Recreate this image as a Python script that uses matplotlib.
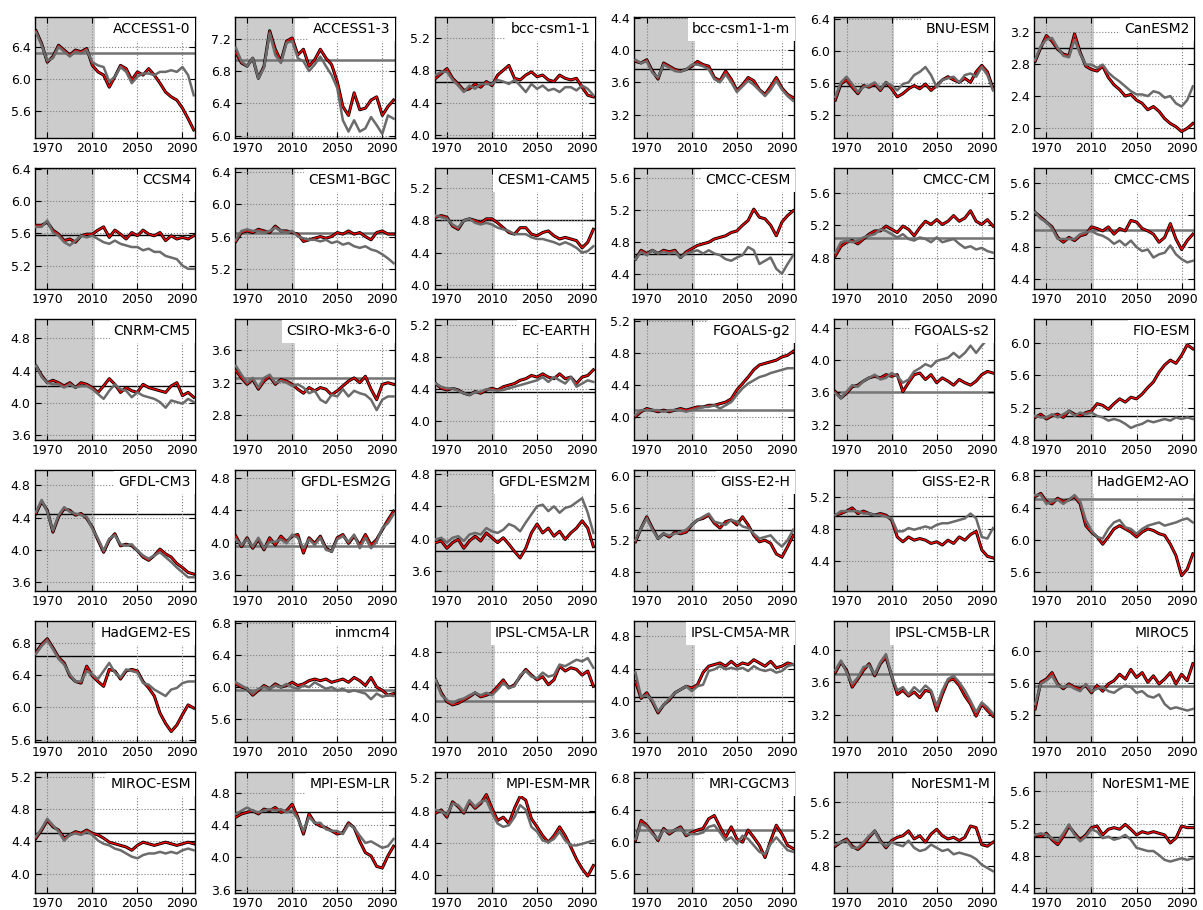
import numpy as np
import matplotlib
matplotlib.use("Agg")
import matplotlib.pyplot as plt
from matplotlib.ticker import MultipleLocator

# years sampled every 5 years, 1960-2100
years = np.arange(1960, 2101, 5)

# red/black run and grey run for each model
access1_0_red = [6.60, 6.44, 6.21, 6.28, 6.42, 6.36, 6.30, 6.36, 6.34, 6.38, 6.17, 6.09, 6.05, 5.90, 6.03, 6.17, 6.13, 5.99, 6.09, 6.05, 6.13, 6.05, 5.95, 5.84, 5.78, 5.74, 5.64, 5.51, 5.37]
access1_0_gray = [6.58, 6.42, 6.23, 6.26, 6.40, 6.34, 6.28, 6.34, 6.32, 6.36, 6.21, 6.17, 6.15, 5.97, 6.03, 6.15, 6.09, 5.95, 6.03, 6.07, 6.07, 6.05, 6.09, 6.09, 6.11, 6.09, 6.15, 6.05, 5.80]
access1_3_red = [7.03, 6.90, 6.86, 6.96, 6.71, 6.86, 7.30, 7.07, 6.92, 7.17, 7.21, 7.00, 7.07, 6.86, 6.94, 7.07, 6.96, 6.88, 6.67, 6.36, 6.25, 6.53, 6.32, 6.34, 6.44, 6.48, 6.25, 6.36, 6.44]
access1_3_gray = [7.09, 6.92, 6.86, 6.96, 6.71, 6.84, 7.27, 7.00, 6.90, 7.15, 7.17, 6.96, 6.92, 6.80, 6.88, 6.98, 6.86, 6.75, 6.59, 6.19, 6.05, 6.19, 6.05, 6.09, 6.23, 6.13, 6.02, 6.25, 6.21]
bcc_csm1_1_red = [4.70, 4.76, 4.82, 4.70, 4.63, 4.55, 4.57, 4.63, 4.59, 4.66, 4.61, 4.74, 4.80, 4.86, 4.70, 4.68, 4.74, 4.78, 4.72, 4.74, 4.68, 4.66, 4.74, 4.70, 4.68, 4.70, 4.59, 4.49, 4.47]
bcc_csm1_1_gray = [4.74, 4.78, 4.78, 4.68, 4.61, 4.53, 4.61, 4.57, 4.63, 4.63, 4.63, 4.68, 4.66, 4.63, 4.68, 4.61, 4.53, 4.63, 4.57, 4.61, 4.55, 4.57, 4.53, 4.59, 4.59, 4.55, 4.61, 4.57, 4.49]
bcc_csm1_1_m_red = [3.86, 3.84, 3.88, 3.74, 3.64, 3.84, 3.80, 3.76, 3.74, 3.76, 3.80, 3.86, 3.82, 3.80, 3.66, 3.62, 3.74, 3.64, 3.50, 3.57, 3.66, 3.62, 3.51, 3.45, 3.55, 3.66, 3.53, 3.45, 3.41]
bcc_csm1_1_m_gray = [3.88, 3.84, 3.86, 3.72, 3.66, 3.82, 3.78, 3.74, 3.73, 3.76, 3.82, 3.82, 3.80, 3.76, 3.64, 3.60, 3.70, 3.60, 3.48, 3.55, 3.62, 3.57, 3.50, 3.43, 3.51, 3.62, 3.51, 3.43, 3.37]
bnu_esm_red = [5.39, 5.59, 5.64, 5.55, 5.47, 5.57, 5.55, 5.59, 5.51, 5.61, 5.53, 5.43, 5.47, 5.53, 5.57, 5.53, 5.59, 5.51, 5.57, 5.64, 5.68, 5.64, 5.61, 5.66, 5.61, 5.74, 5.82, 5.74, 5.53]
bnu_esm_gray = [5.43, 5.61, 5.68, 5.59, 5.49, 5.55, 5.57, 5.61, 5.53, 5.61, 5.57, 5.51, 5.59, 5.61, 5.70, 5.74, 5.80, 5.70, 5.55, 5.64, 5.66, 5.68, 5.61, 5.70, 5.72, 5.68, 5.80, 5.70, 5.51]
canesm2_red = [2.83, 3.00, 3.15, 3.08, 2.98, 2.92, 2.90, 3.17, 2.94, 2.77, 2.73, 2.71, 2.77, 2.63, 2.54, 2.48, 2.40, 2.42, 2.35, 2.31, 2.23, 2.27, 2.21, 2.12, 2.06, 2.02, 1.96, 2.00, 2.06]
canesm2_gray = [2.85, 3.02, 3.10, 3.12, 3.00, 2.90, 2.88, 3.10, 2.92, 2.79, 2.79, 2.75, 2.79, 2.69, 2.63, 2.58, 2.52, 2.46, 2.42, 2.42, 2.40, 2.46, 2.44, 2.38, 2.40, 2.31, 2.27, 2.35, 2.52]
ccsm4_red = [5.70, 5.70, 5.74, 5.64, 5.59, 5.51, 5.53, 5.49, 5.57, 5.59, 5.59, 5.64, 5.68, 5.55, 5.64, 5.59, 5.53, 5.61, 5.57, 5.64, 5.59, 5.57, 5.61, 5.51, 5.57, 5.53, 5.55, 5.53, 5.57]
ccsm4_gray = [5.68, 5.68, 5.76, 5.61, 5.57, 5.49, 5.45, 5.51, 5.57, 5.55, 5.57, 5.53, 5.49, 5.47, 5.51, 5.47, 5.45, 5.43, 5.43, 5.39, 5.41, 5.37, 5.37, 5.32, 5.30, 5.28, 5.20, 5.16, 5.16]
cesm1_bgc_red = [5.54, 5.65, 5.67, 5.65, 5.69, 5.67, 5.65, 5.73, 5.67, 5.67, 5.65, 5.63, 5.54, 5.56, 5.58, 5.60, 5.58, 5.60, 5.65, 5.63, 5.67, 5.63, 5.65, 5.60, 5.56, 5.65, 5.67, 5.63, 5.63]
cesm1_bgc_gray = [5.56, 5.67, 5.69, 5.67, 5.67, 5.65, 5.67, 5.71, 5.67, 5.65, 5.67, 5.60, 5.58, 5.56, 5.56, 5.54, 5.56, 5.52, 5.54, 5.50, 5.52, 5.48, 5.46, 5.48, 5.44, 5.42, 5.38, 5.33, 5.27]
cesm1_cam5_red = [4.84, 4.86, 4.84, 4.73, 4.69, 4.80, 4.82, 4.80, 4.77, 4.82, 4.82, 4.77, 4.71, 4.65, 4.63, 4.71, 4.71, 4.63, 4.61, 4.65, 4.67, 4.61, 4.57, 4.59, 4.57, 4.55, 4.46, 4.53, 4.69]
cesm1_cam5_gray = [4.86, 4.84, 4.82, 4.75, 4.71, 4.80, 4.82, 4.77, 4.75, 4.77, 4.75, 4.71, 4.69, 4.67, 4.63, 4.63, 4.63, 4.59, 4.57, 4.57, 4.55, 4.53, 4.50, 4.53, 4.50, 4.46, 4.40, 4.42, 4.48]
cmcc_cesm_red = [4.59, 4.70, 4.66, 4.70, 4.66, 4.70, 4.68, 4.70, 4.61, 4.68, 4.72, 4.76, 4.78, 4.80, 4.84, 4.86, 4.88, 4.92, 4.94, 5.01, 5.07, 5.21, 5.11, 5.09, 5.01, 4.88, 5.05, 5.13, 5.19]
cmcc_cesm_gray = [4.59, 4.68, 4.64, 4.70, 4.66, 4.68, 4.66, 4.68, 4.61, 4.66, 4.68, 4.70, 4.66, 4.70, 4.66, 4.64, 4.59, 4.57, 4.61, 4.64, 4.74, 4.70, 4.53, 4.57, 4.61, 4.47, 4.41, 4.53, 4.64]
cmcc_cm_red = [4.82, 4.94, 4.99, 5.01, 4.97, 5.03, 5.09, 5.13, 5.13, 5.19, 5.15, 5.11, 5.19, 5.15, 5.07, 5.17, 5.25, 5.21, 5.27, 5.21, 5.25, 5.32, 5.25, 5.29, 5.38, 5.25, 5.21, 5.27, 5.19]
cmcc_cm_gray = [4.86, 4.99, 5.01, 4.99, 5.01, 5.05, 5.07, 5.09, 5.15, 5.13, 5.09, 5.05, 5.09, 5.03, 5.01, 5.05, 5.03, 4.99, 5.05, 4.99, 5.01, 5.03, 4.97, 4.92, 4.94, 4.90, 4.92, 4.88, 4.86]
cmcc_cms_red = [5.23, 5.17, 5.11, 5.05, 4.92, 4.86, 4.92, 4.88, 4.94, 4.96, 5.05, 5.03, 5.00, 5.05, 4.96, 5.03, 5.00, 5.13, 5.11, 5.03, 5.00, 4.96, 4.86, 4.92, 5.09, 4.90, 4.77, 4.88, 4.96]
cmcc_cms_gray = [5.23, 5.15, 5.11, 5.03, 4.90, 4.90, 4.90, 4.90, 4.96, 4.98, 5.00, 4.96, 4.94, 4.90, 4.84, 4.88, 4.82, 4.88, 4.80, 4.75, 4.77, 4.67, 4.71, 4.73, 4.82, 4.71, 4.65, 4.61, 4.63]
cnrm_cm5_red = [4.46, 4.34, 4.25, 4.28, 4.25, 4.21, 4.25, 4.19, 4.25, 4.23, 4.19, 4.13, 4.21, 4.30, 4.23, 4.13, 4.19, 4.15, 4.13, 4.23, 4.19, 4.17, 4.15, 4.13, 4.21, 4.25, 4.09, 4.13, 4.07]
cnrm_cm5_gray = [4.46, 4.32, 4.25, 4.23, 4.23, 4.19, 4.23, 4.19, 4.21, 4.21, 4.17, 4.11, 4.05, 4.15, 4.23, 4.17, 4.15, 4.07, 4.13, 4.09, 4.07, 4.05, 4.01, 3.94, 4.03, 4.01, 3.99, 4.05, 4.01]
csiro_mk3_6_0_red = [3.35, 3.26, 3.18, 3.24, 3.12, 3.22, 3.28, 3.18, 3.24, 3.22, 3.18, 3.12, 3.07, 3.14, 3.10, 3.14, 3.12, 3.05, 3.10, 3.16, 3.22, 3.26, 3.20, 3.28, 3.12, 2.99, 3.18, 3.20, 3.18]
csiro_mk3_6_0_gray = [3.41, 3.30, 3.20, 3.26, 3.14, 3.26, 3.30, 3.20, 3.22, 3.20, 3.16, 3.18, 3.14, 3.07, 3.10, 2.99, 2.95, 3.05, 3.03, 3.12, 3.03, 3.10, 3.07, 3.05, 2.99, 2.86, 2.99, 3.03, 3.03]
ec_earth_red = [4.47, 4.41, 4.39, 4.41, 4.39, 4.35, 4.33, 4.37, 4.35, 4.39, 4.41, 4.39, 4.43, 4.45, 4.47, 4.51, 4.53, 4.57, 4.55, 4.59, 4.55, 4.53, 4.59, 4.53, 4.55, 4.47, 4.55, 4.57, 4.64]
ec_earth_gray = [4.47, 4.43, 4.41, 4.41, 4.38, 4.35, 4.33, 4.36, 4.37, 4.40, 4.39, 4.38, 4.39, 4.41, 4.43, 4.45, 4.47, 4.49, 4.51, 4.55, 4.49, 4.55, 4.51, 4.47, 4.55, 4.43, 4.47, 4.51, 4.49]
fgoals_g2_red = [4.01, 4.07, 4.11, 4.09, 4.07, 4.09, 4.07, 4.09, 4.11, 4.09, 4.11, 4.13, 4.13, 4.15, 4.15, 4.17, 4.19, 4.23, 4.34, 4.42, 4.50, 4.59, 4.65, 4.67, 4.69, 4.71, 4.75, 4.77, 4.82]
fgoals_g2_gray = [4.03, 4.09, 4.09, 4.09, 4.09, 4.07, 4.09, 4.09, 4.09, 4.07, 4.09, 4.11, 4.13, 4.13, 4.15, 4.11, 4.15, 4.19, 4.28, 4.36, 4.42, 4.46, 4.50, 4.52, 4.55, 4.57, 4.59, 4.61, 4.61]
fgoals_s2_red = [3.61, 3.53, 3.59, 3.67, 3.69, 3.74, 3.78, 3.80, 3.78, 3.82, 3.80, 3.82, 3.61, 3.72, 3.82, 3.84, 3.76, 3.82, 3.72, 3.78, 3.74, 3.69, 3.76, 3.72, 3.69, 3.74, 3.82, 3.86, 3.84]
fgoals_s2_gray = [3.59, 3.53, 3.61, 3.69, 3.67, 3.74, 3.78, 3.82, 3.76, 3.78, 3.84, 3.80, 3.72, 3.76, 3.86, 3.90, 3.95, 3.92, 3.99, 4.01, 4.03, 4.09, 4.03, 4.09, 4.18, 4.09, 4.18, 4.26, 4.26]
fio_esm_red = [5.08, 5.12, 5.06, 5.10, 5.12, 5.08, 5.16, 5.12, 5.10, 5.14, 5.16, 5.25, 5.23, 5.18, 5.25, 5.31, 5.27, 5.33, 5.31, 5.37, 5.45, 5.52, 5.64, 5.73, 5.79, 5.75, 5.85, 5.98, 5.93]
fio_esm_gray = [5.10, 5.08, 5.08, 5.12, 5.08, 5.12, 5.16, 5.10, 5.14, 5.12, 5.14, 5.10, 5.08, 5.04, 5.06, 5.04, 5.00, 4.95, 4.98, 5.00, 5.04, 5.02, 5.04, 5.06, 5.04, 5.08, 5.06, 5.08, 5.06]
gfdl_cm3_red = [4.45, 4.60, 4.49, 4.22, 4.41, 4.51, 4.49, 4.43, 4.45, 4.39, 4.28, 4.12, 3.97, 4.12, 4.20, 4.05, 4.07, 4.05, 3.99, 3.91, 3.87, 3.93, 4.01, 3.95, 3.91, 3.83, 3.78, 3.72, 3.70]
gfdl_cm3_gray = [4.47, 4.62, 4.47, 4.24, 4.43, 4.53, 4.47, 4.45, 4.43, 4.41, 4.26, 4.14, 3.99, 4.14, 4.18, 4.07, 4.05, 4.07, 3.99, 3.93, 3.89, 3.93, 3.97, 3.91, 3.85, 3.78, 3.72, 3.66, 3.66]
gfdl_esm2g_red = [4.08, 3.95, 4.06, 3.93, 4.04, 3.91, 4.06, 3.97, 4.08, 4.01, 4.08, 4.10, 3.87, 4.06, 3.99, 4.08, 3.93, 3.89, 4.06, 4.10, 3.99, 4.08, 3.97, 4.10, 3.97, 4.04, 4.16, 4.28, 4.39]
gfdl_esm2g_gray = [4.04, 3.97, 4.04, 3.95, 4.06, 3.93, 4.01, 4.01, 4.04, 3.99, 4.10, 4.06, 3.93, 4.04, 3.97, 4.06, 3.91, 3.89, 4.04, 4.08, 4.01, 4.10, 3.93, 4.06, 3.93, 4.01, 4.18, 4.24, 4.35]
gfdl_esm2m_red = [3.95, 3.97, 3.88, 3.95, 3.99, 3.88, 3.97, 4.03, 3.97, 4.07, 4.01, 3.95, 4.01, 3.93, 3.84, 3.76, 3.88, 4.07, 4.18, 4.07, 4.13, 4.03, 4.09, 3.99, 4.07, 4.13, 4.22, 4.13, 3.90]
gfdl_esm2m_gray = [3.99, 4.01, 3.95, 4.01, 4.03, 3.97, 4.05, 4.07, 4.05, 4.13, 4.09, 4.07, 4.11, 4.18, 4.15, 4.09, 4.20, 4.30, 4.40, 4.42, 4.34, 4.40, 4.32, 4.38, 4.40, 4.45, 4.50, 4.32, 4.07]
giss_e2_h_red = [5.18, 5.35, 5.49, 5.35, 5.22, 5.28, 5.24, 5.30, 5.28, 5.30, 5.39, 5.45, 5.47, 5.51, 5.41, 5.35, 5.43, 5.45, 5.39, 5.49, 5.39, 5.26, 5.18, 5.20, 5.16, 5.03, 4.99, 5.12, 5.26]
giss_e2_h_gray = [5.20, 5.35, 5.47, 5.33, 5.22, 5.28, 5.26, 5.28, 5.30, 5.33, 5.39, 5.45, 5.49, 5.53, 5.43, 5.41, 5.39, 5.45, 5.43, 5.37, 5.35, 5.28, 5.22, 5.24, 5.26, 5.18, 5.12, 5.20, 5.33]
giss_e2_r_red = [4.97, 4.99, 5.02, 5.06, 4.99, 5.02, 4.99, 4.97, 4.99, 4.97, 4.91, 4.70, 4.64, 4.70, 4.66, 4.68, 4.66, 4.62, 4.64, 4.60, 4.66, 4.62, 4.70, 4.66, 4.73, 4.77, 4.54, 4.46, 4.44]
giss_e2_r_gray = [4.97, 5.02, 5.02, 5.02, 5.02, 4.99, 4.99, 4.97, 4.97, 4.95, 4.93, 4.77, 4.77, 4.81, 4.79, 4.81, 4.83, 4.81, 4.85, 4.87, 4.87, 4.89, 4.91, 4.93, 4.99, 4.93, 4.70, 4.68, 4.81]
hadgem2_ao_red = [6.54, 6.58, 6.48, 6.45, 6.52, 6.48, 6.50, 6.54, 6.45, 6.18, 6.10, 6.04, 5.95, 6.04, 6.14, 6.18, 6.14, 6.10, 6.04, 6.10, 6.14, 6.12, 6.08, 6.06, 5.95, 5.81, 5.56, 5.64, 5.83]
hadgem2_ao_gray = [6.56, 6.56, 6.45, 6.48, 6.50, 6.45, 6.50, 6.56, 6.48, 6.25, 6.12, 6.04, 6.02, 6.14, 6.22, 6.25, 6.16, 6.14, 6.08, 6.14, 6.18, 6.20, 6.22, 6.18, 6.20, 6.22, 6.25, 6.27, 6.22]
hadgem2_es_red = [6.68, 6.78, 6.85, 6.74, 6.62, 6.55, 6.39, 6.32, 6.30, 6.51, 6.39, 6.32, 6.26, 6.47, 6.45, 6.35, 6.45, 6.47, 6.45, 6.32, 6.24, 6.14, 5.93, 5.80, 5.70, 5.78, 5.91, 6.03, 5.99]
hadgem2_es_gray = [6.66, 6.76, 6.83, 6.72, 6.60, 6.53, 6.41, 6.32, 6.32, 6.45, 6.41, 6.35, 6.45, 6.55, 6.43, 6.37, 6.47, 6.45, 6.43, 6.30, 6.28, 6.22, 6.18, 6.14, 6.22, 6.24, 6.30, 6.32, 6.32]
inmcm4_red = [6.04, 6.00, 5.98, 5.90, 5.96, 6.02, 5.98, 6.04, 6.00, 6.02, 6.06, 6.02, 6.04, 6.08, 6.10, 6.08, 6.10, 6.06, 6.08, 6.10, 6.06, 6.12, 6.08, 6.02, 6.12, 6.00, 5.96, 5.90, 5.92]
inmcm4_gray = [6.06, 6.02, 5.98, 5.92, 5.98, 6.00, 5.98, 6.02, 6.00, 6.04, 6.00, 5.98, 6.02, 6.00, 6.06, 6.02, 5.98, 6.00, 5.96, 5.98, 5.94, 5.96, 5.94, 5.92, 5.85, 5.92, 5.88, 5.90, 5.89]
ipsl_cm5a_lr_red = [4.46, 4.30, 4.19, 4.15, 4.17, 4.21, 4.25, 4.30, 4.25, 4.27, 4.30, 4.38, 4.46, 4.36, 4.40, 4.50, 4.59, 4.52, 4.46, 4.50, 4.40, 4.46, 4.63, 4.57, 4.61, 4.59, 4.52, 4.57, 4.38]
ipsl_cm5a_lr_gray = [4.46, 4.27, 4.21, 4.17, 4.21, 4.23, 4.27, 4.30, 4.27, 4.30, 4.27, 4.34, 4.42, 4.36, 4.38, 4.52, 4.57, 4.50, 4.48, 4.55, 4.50, 4.52, 4.65, 4.63, 4.67, 4.71, 4.69, 4.73, 4.61]
ipsl_cm5a_mr_red = [4.24, 4.03, 4.10, 3.99, 3.85, 3.95, 4.01, 4.10, 4.14, 4.18, 4.16, 4.20, 4.35, 4.43, 4.45, 4.47, 4.43, 4.49, 4.43, 4.47, 4.45, 4.51, 4.47, 4.43, 4.49, 4.41, 4.43, 4.47, 4.45]
ipsl_cm5a_mr_gray = [4.35, 4.05, 4.07, 4.01, 3.87, 3.95, 4.03, 4.10, 4.14, 4.18, 4.12, 4.18, 4.20, 4.37, 4.39, 4.43, 4.39, 4.41, 4.39, 4.41, 4.37, 4.43, 4.39, 4.37, 4.39, 4.35, 4.37, 4.43, 4.45]
ipsl_cm5b_lr_red = [3.72, 3.85, 3.75, 3.54, 3.64, 3.75, 3.83, 3.68, 3.83, 3.91, 3.68, 3.45, 3.50, 3.43, 3.48, 3.41, 3.50, 3.48, 3.25, 3.45, 3.62, 3.64, 3.56, 3.43, 3.33, 3.18, 3.33, 3.25, 3.18]
ipsl_cm5b_lr_gray = [3.75, 3.87, 3.72, 3.58, 3.66, 3.79, 3.81, 3.70, 3.85, 3.95, 3.68, 3.50, 3.54, 3.45, 3.54, 3.48, 3.56, 3.50, 3.31, 3.50, 3.64, 3.68, 3.60, 3.50, 3.37, 3.23, 3.35, 3.29, 3.21]
miroc5_red = [5.28, 5.61, 5.65, 5.73, 5.59, 5.53, 5.59, 5.55, 5.53, 5.57, 5.48, 5.57, 5.50, 5.59, 5.63, 5.71, 5.65, 5.77, 5.67, 5.73, 5.61, 5.69, 5.59, 5.65, 5.73, 5.59, 5.71, 5.63, 5.84]
miroc5_gray = [5.34, 5.59, 5.63, 5.69, 5.57, 5.55, 5.57, 5.53, 5.50, 5.59, 5.50, 5.53, 5.55, 5.50, 5.48, 5.53, 5.57, 5.55, 5.48, 5.50, 5.44, 5.42, 5.46, 5.34, 5.28, 5.30, 5.28, 5.26, 5.28]
miroc_esm_red = [4.44, 4.54, 4.66, 4.58, 4.54, 4.44, 4.48, 4.52, 4.50, 4.54, 4.50, 4.48, 4.44, 4.39, 4.37, 4.35, 4.33, 4.29, 4.35, 4.39, 4.37, 4.35, 4.37, 4.39, 4.37, 4.35, 4.37, 4.39, 4.37]
miroc_esm_gray = [4.46, 4.56, 4.68, 4.60, 4.52, 4.41, 4.48, 4.50, 4.48, 4.52, 4.48, 4.41, 4.37, 4.35, 4.31, 4.29, 4.25, 4.21, 4.19, 4.23, 4.25, 4.25, 4.27, 4.25, 4.27, 4.25, 4.29, 4.31, 4.29]
mpi_esm_lr_red = [4.50, 4.54, 4.56, 4.58, 4.54, 4.60, 4.58, 4.62, 4.56, 4.58, 4.66, 4.50, 4.29, 4.54, 4.43, 4.39, 4.37, 4.33, 4.29, 4.31, 4.43, 4.37, 4.20, 4.06, 4.02, 3.89, 3.87, 4.02, 4.14]
mpi_esm_lr_gray = [4.54, 4.58, 4.62, 4.58, 4.56, 4.58, 4.60, 4.58, 4.60, 4.56, 4.58, 4.48, 4.33, 4.50, 4.43, 4.43, 4.35, 4.33, 4.33, 4.29, 4.41, 4.37, 4.27, 4.18, 4.20, 4.16, 4.12, 4.14, 4.23]
mpi_esm_mr_red = [4.77, 4.81, 4.72, 4.91, 4.85, 4.77, 4.91, 4.83, 4.89, 5.00, 4.83, 4.68, 4.72, 4.64, 4.83, 4.98, 4.93, 4.70, 4.60, 4.49, 4.41, 4.49, 4.60, 4.49, 4.35, 4.20, 4.08, 3.99, 4.12]
mpi_esm_mr_gray = [4.81, 4.79, 4.75, 4.89, 4.87, 4.79, 4.93, 4.85, 4.91, 4.93, 4.77, 4.64, 4.60, 4.62, 4.72, 4.87, 4.81, 4.60, 4.54, 4.43, 4.41, 4.45, 4.54, 4.43, 4.37, 4.37, 4.39, 4.41, 4.43]
mri_cgcm3_red = [6.02, 6.27, 6.21, 6.12, 6.02, 6.17, 6.10, 6.15, 6.19, 6.08, 6.12, 6.15, 6.17, 6.29, 6.33, 6.19, 6.06, 6.19, 6.04, 6.00, 6.15, 6.06, 5.96, 5.81, 6.02, 6.21, 6.10, 5.96, 5.92]
mri_cgcm3_gray = [6.04, 6.23, 6.19, 6.10, 6.04, 6.15, 6.12, 6.15, 6.17, 6.10, 6.10, 6.10, 6.12, 6.19, 6.21, 6.12, 6.02, 6.06, 5.98, 6.08, 6.04, 5.96, 5.88, 5.85, 5.98, 6.06, 5.98, 5.90, 5.88]
noresm1_m_red = [5.05, 5.10, 5.14, 5.05, 5.01, 5.07, 5.16, 5.24, 5.12, 5.03, 5.12, 5.16, 5.18, 5.24, 5.14, 5.18, 5.10, 5.20, 5.26, 5.18, 5.14, 5.16, 5.12, 5.16, 5.30, 5.28, 5.07, 5.05, 5.10]
noresm1_m_gray = [5.07, 5.10, 5.12, 5.03, 5.03, 5.10, 5.18, 5.24, 5.10, 5.05, 5.10, 5.07, 5.05, 5.12, 5.03, 4.99, 5.01, 5.07, 5.03, 4.99, 5.01, 4.95, 4.97, 4.95, 4.93, 4.89, 4.82, 4.78, 4.74]
noresm1_me_red = [5.06, 5.04, 5.08, 5.00, 4.94, 5.04, 5.17, 5.08, 5.00, 5.06, 5.15, 5.17, 5.06, 5.13, 5.15, 5.13, 5.19, 5.13, 5.06, 5.10, 5.08, 5.10, 5.08, 5.06, 4.96, 5.02, 5.17, 5.15, 5.15]
noresm1_me_gray = [5.06, 5.08, 5.06, 5.02, 4.98, 5.08, 5.19, 5.06, 4.98, 5.04, 5.13, 5.10, 5.02, 5.04, 5.00, 5.02, 5.06, 5.00, 4.90, 4.88, 4.86, 4.86, 4.81, 4.75, 4.73, 4.75, 4.77, 4.75, 4.77]

model_names = ["ACCESS1-0", "ACCESS1-3", "bcc-csm1-1", "bcc-csm1-1-m", "BNU-ESM", "CanESM2",
               "CCSM4", "CESM1-BGC", "CESM1-CAM5", "CMCC-CESM", "CMCC-CM", "CMCC-CMS",
               "CNRM-CM5", "CSIRO-Mk3-6-0", "EC-EARTH", "FGOALS-g2", "FGOALS-s2", "FIO-ESM",
               "GFDL-CM3", "GFDL-ESM2G", "GFDL-ESM2M", "GISS-E2-H", "GISS-E2-R", "HadGEM2-AO",
               "HadGEM2-ES", "inmcm4", "IPSL-CM5A-LR", "IPSL-CM5A-MR", "IPSL-CM5B-LR", "MIROC5",
               "MIROC-ESM", "MPI-ESM-LR", "MPI-ESM-MR", "MRI-CGCM3", "NorESM1-M", "NorESM1-ME"]

red_runs = [access1_0_red, access1_3_red, bcc_csm1_1_red, bcc_csm1_1_m_red, bnu_esm_red, canesm2_red,
            ccsm4_red, cesm1_bgc_red, cesm1_cam5_red, cmcc_cesm_red, cmcc_cm_red, cmcc_cms_red,
            cnrm_cm5_red, csiro_mk3_6_0_red, ec_earth_red, fgoals_g2_red, fgoals_s2_red, fio_esm_red,
            gfdl_cm3_red, gfdl_esm2g_red, gfdl_esm2m_red, giss_e2_h_red, giss_e2_r_red, hadgem2_ao_red,
            hadgem2_es_red, inmcm4_red, ipsl_cm5a_lr_red, ipsl_cm5a_mr_red, ipsl_cm5b_lr_red, miroc5_red,
            miroc_esm_red, mpi_esm_lr_red, mpi_esm_mr_red, mri_cgcm3_red, noresm1_m_red, noresm1_me_red]
gray_runs = [access1_0_gray, access1_3_gray, bcc_csm1_1_gray, bcc_csm1_1_m_gray, bnu_esm_gray, canesm2_gray,
             ccsm4_gray, cesm1_bgc_gray, cesm1_cam5_gray, cmcc_cesm_gray, cmcc_cm_gray, cmcc_cms_gray,
             cnrm_cm5_gray, csiro_mk3_6_0_gray, ec_earth_gray, fgoals_g2_gray, fgoals_s2_gray, fio_esm_gray,
             gfdl_cm3_gray, gfdl_esm2g_gray, gfdl_esm2m_gray, giss_e2_h_gray, giss_e2_r_gray, hadgem2_ao_gray,
             hadgem2_es_gray, inmcm4_gray, ipsl_cm5a_lr_gray, ipsl_cm5a_mr_gray, ipsl_cm5b_lr_gray, miroc5_gray,
             miroc_esm_gray, mpi_esm_lr_gray, mpi_esm_mr_gray, mri_cgcm3_gray, noresm1_m_gray, noresm1_me_gray]

# historical mean (horizontal line) and whether it shows grey on top
hist_mean = [6.32, 6.94, 4.65, 3.76, 5.57, 3.00,
             5.58, 5.65, 4.80, 4.65, 5.04, 5.01,
             4.21, 3.26, 4.36, 4.09, 3.60, 5.10,
             4.44, 3.96, 3.85, 5.33, 4.96, 6.51,
             6.63, 5.97, 4.20, 4.05, 3.70, 5.57,
             4.50, 4.57, 4.78, 6.15, 5.10, 5.04]
hist_mean_grey = [1, 1, 0, 0, 0, 0,
                  0, 1, 0, 0, 1, 1,
                  0, 1, 0, 1, 1, 0,
                  0, 1, 0, 0, 0, 1,
                  0, 1, 1, 0, 1, 1,
                  0, 0, 0, 1, 0, 0]
# lower y limit of each panel (every panel spans 1.5)
y_low = [5.27, 5.97, 3.96, 2.91, 4.92, 1.88,
         4.91, 4.95, 3.95, 4.22, 4.41, 4.28,
         3.54, 2.49, 3.77, 3.72, 3.01, 4.80,
         3.49, 3.40, 3.35, 4.57, 4.03, 5.37,
         5.57, 5.32, 3.69, 3.49, 2.86, 4.87,
         3.76, 3.56, 3.78, 5.37, 4.47, 4.34]

fig, axes = plt.subplots(6, 6, figsize=(12.03, 9.10), dpi=100)
fig.subplots_adjust(left=0.029, right=0.9925, top=0.9813, bottom=0.0187, wspace=0.249, hspace=0.248)

for i, ax in enumerate(axes.flat):
    ax.axvspan(1955, 2012.5, color="0.8", lw=0, zorder=0)
    if hist_mean_grey[i]:
        ax.axhline(hist_mean[i], color="0.45", lw=1.8, zorder=1)
    else:
        ax.axhline(hist_mean[i], color="k", lw=1.0, zorder=1)
    ax.plot(years, red_runs[i], color="k", lw=2.2, zorder=2)
    ax.plot(years, red_runs[i], color="r", lw=1.0, zorder=3)
    ax.plot(years, gray_runs[i], color="0.42", lw=1.8, zorder=4)

    ax.set_xlim(1959, 2101)
    ax.set_ylim(y_low[i], y_low[i] + 1.5)
    ax.set_xticks([1970, 2010, 2050, 2090])
    ax.yaxis.set_major_locator(MultipleLocator(0.4))
    ax.yaxis.set_major_formatter(matplotlib.ticker.FormatStrFormatter("%.1f"))
    ax.grid(True, color="0.5", linestyle=":", lw=0.8)
    ax.tick_params(direction="in", length=4, labelsize=9, top=True, right=True, pad=3)
    for s in ax.spines.values():
        s.set_linewidth(1.0)
    ax.text(0.975, 0.955, model_names[i], transform=ax.transAxes, ha="right", va="top",
            fontsize=10, zorder=10,
            bbox=dict(facecolor="white", edgecolor="none", pad=3))

fig.savefig("out.png", dpi=100)
